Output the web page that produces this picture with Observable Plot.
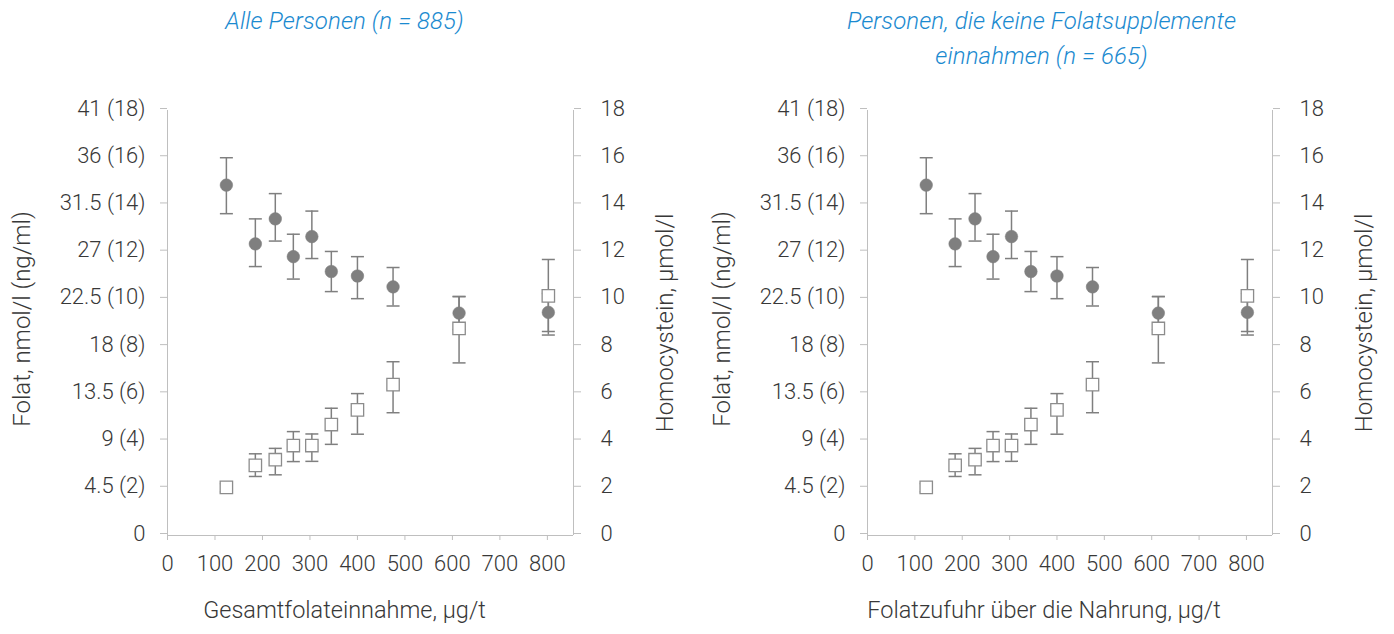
<!DOCTYPE html>
<html><head><meta charset="utf-8">
<script src="https://cdn.jsdelivr.net/npm/d3@7"></script>
<script src="https://cdn.jsdelivr.net/npm/@observablehq/plot@0.6"></script>
<style>
body{margin:0;background:#fff;font-family:Roboto,"Noto Sans",sans-serif;}
#wrap{display:flex;width:1394px;height:634px;overflow:hidden;}
.panel{position:relative;}
.title{height:80px;color:#1b8ad0;font-style:italic;font-size:24px;font-weight:300;text-align:center;line-height:35px;padding-top:4px;box-sizing:border-box;letter-spacing:0.1px;}
</style></head>
<body><div id="wrap"></div>
<script>
// ---- data ----
const intake   = [124, 185, 227, 265, 304, 345, 400, 475, 614, 802];
// Homocystein (filled circles), µmol/l
const hcy      = [14.84, 12.35, 13.41, 11.81, 12.66, 11.18, 10.99, 10.53, 9.42, 9.45];
const hcyLow   = [13.63, 11.39, 12.47, 10.86, 11.73, 10.33, 10.03, 9.72, 8.72, 8.64];
const hcyHigh  = [16.00, 13.41, 14.48, 12.76, 13.74, 12.03, 11.81, 11.35, 10.12, 10.25];
// Folat (open squares), ng/ml scale
const fol      = [2.04, 2.97, 3.21, 3.81, 3.81, 4.70, 5.32, 6.39, 8.77, 10.15];
const folLow   = [1.85, 2.50, 2.57, 3.13, 3.14, 3.86, 4.29, 5.20, 7.31, 8.49];
const folHigh  = [2.20, 3.46, 3.69, 4.40, 4.30, 5.39, 6.01, 7.36, 10.12, 11.69];

const xTicks = [0, 100, 200, 300, 400, 500, 600, 700, 800];
const xMax = 855;
const yTicks = [0, 2, 4, 6, 8, 10, 12, 14, 16, 18];
const leftTickLabels = ["0", "4.5 (2)", "9 (4)", "13.5 (6)", "18 (8)", "22.5 (10)", "27 (12)", "31.5 (14)", "36 (16)", "41 (18)"];

const panels = [
  {title: ["Alle Personen (n = 885)"], xLabel: "Gesamtfolateinnahme, µg/t", width: 699, ml: 167, mr: 126},
  {title: ["Personen, die keine Folatsupplemente", "einnahmen (n = 665)"], xLabel: "Folatzufuhr über die Nahrung, µg/t", width: 695, ml: 168, mr: 122}
];
const yLabelLeft = "Folat, nmol/l (ng/ml)";
const yLabelRight = "Homocystein, µmol/l";

const axisColor = "#bfbfbf";
const textColor = "#383838";
const markColor = "#7f7f7f";

const capSym = {draw(ctx){ ctx.moveTo(-6.5, 0); ctx.lineTo(6.5, 0); }};
const squareSym = {draw(ctx){ ctx.rect(-6.2, -6.2, 12.4, 12.4); }};

const rows = intake.map((x, i) => ({
  x, hcy: hcy[i], hcyLo: hcyLow[i], hcyHi: hcyHigh[i],
  fol: fol[i], folLo: folLow[i], folHi: folHigh[i]
}));

const wrap = document.getElementById("wrap");
for (const p of panels) {
  const div = document.createElement("div");
  div.className = "panel";
  div.style.width = p.width + "px";
  const t = document.createElement("div");
  t.className = "title";
  t.style.paddingRight = "10px";
  t.innerHTML = p.title.join("<br>");
  div.appendChild(t);

  const chart = Plot.plot({
    width: p.width, height: 554,
    marginLeft: p.ml, marginRight: p.mr, marginTop: 30, marginBottom: 99,
    x: {domain: [0, xMax]},
    y: {domain: [0, 18]},
    style: {fontFamily: "Roboto, 'Noto Sans', sans-serif", fontSize: "22px", fontWeight: 300, color: textColor, background: "white"},
    marks: [
      Plot.ruleX([0], {stroke: axisColor}),
      Plot.ruleX([xMax], {stroke: axisColor}),
      Plot.ruleY([0], {stroke: axisColor}),
      Plot.axisX({ticks: xTicks, tickSize: 5, tickPadding: 15, stroke: axisColor, fill: textColor, label: null, tickFormat: d => String(d)}),
      Plot.axisY({anchor: "left", ticks: yTicks, tickSize: 7, tickPadding: 15, dy: -2, stroke: axisColor, fill: textColor, label: null,
        tickFormat: d => leftTickLabels[yTicks.indexOf(d)]}),
      Plot.axisY({anchor: "right", ticks: yTicks, tickSize: 7, tickPadding: 20, dy: -2, stroke: axisColor, fill: textColor, label: null, tickFormat: d => String(d)}),
      Plot.text([yLabelLeft], {text: d => d, frameAnchor: "left", textAnchor: "middle", lineAnchor: "middle", dx: -145, dy: -4, rotate: -90, fill: textColor, fontSize: 24}),
      Plot.text([yLabelRight], {text: d => d, frameAnchor: "right", textAnchor: "middle", lineAnchor: "middle", dx: 92, dy: 0, rotate: -90, fill: textColor, fontSize: 24}),
      Plot.text([p.xLabel], {text: d => d, frameAnchor: "bottom", textAnchor: "middle", lineAnchor: "middle", dy: 75, dx: -26, fill: textColor, fontSize: 23.5}),
      // error bars
      Plot.ruleX(rows, {x: "x", y1: "folLo", y2: "folHi", stroke: markColor, strokeWidth: 1.5}),
      Plot.ruleX(rows, {x: "x", y1: "hcyLo", y2: "hcyHi", stroke: markColor, strokeWidth: 1.5}),
      Plot.dot(rows, {x: "x", y: "folLo", symbol: capSym, stroke: markColor, strokeWidth: 1.5, fill: "none"}),
      Plot.dot(rows, {x: "x", y: "folHi", symbol: capSym, stroke: markColor, strokeWidth: 1.5, fill: "none"}),
      Plot.dot(rows, {x: "x", y: "hcyLo", symbol: capSym, stroke: markColor, strokeWidth: 1.5, fill: "none"}),
      Plot.dot(rows, {x: "x", y: "hcyHi", symbol: capSym, stroke: markColor, strokeWidth: 1.5, fill: "none"}),
      // points
      Plot.dot(rows, {x: "x", y: "fol", symbol: squareSym, fill: "white", stroke: "#8c8c8c", strokeWidth: 1.3}),
      Plot.dot(rows, {x: "x", y: "hcy", r: 6.3, fill: markColor, stroke: markColor, strokeWidth: 0.5})
    ]
  });
  div.appendChild(chart);
  wrap.appendChild(div);
}
</script>
</body></html>
